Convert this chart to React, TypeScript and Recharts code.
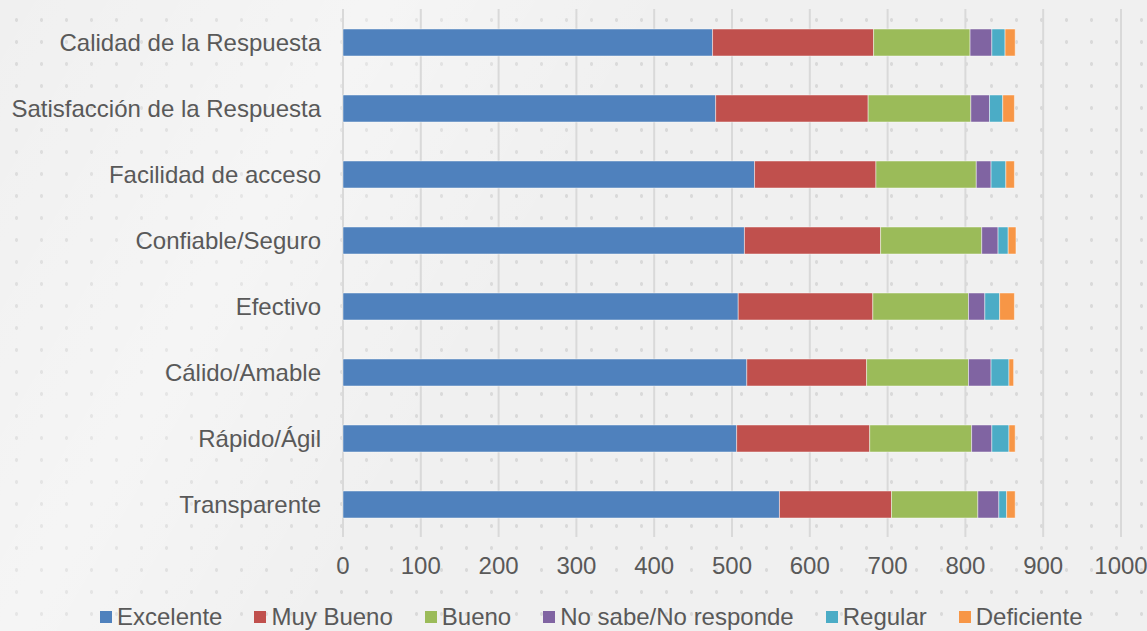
import React from 'react';
import { BarChart, Bar, XAxis, YAxis, CartesianGrid, Legend } from 'recharts';

const categories = [
  'Calidad de la Respuesta',
  'Satisfacción de la Respuesta',
  'Facilidad de acceso',
  'Confiable/Seguro',
  'Efectivo',
  'Cálido/Amable',
  'Rápido/Ágil',
  'Transparente',
];
const excelente = [475, 479, 529, 516, 508, 519, 506, 561];
const muyBueno = [207, 196, 156, 175, 173, 154, 171, 144];
const bueno = [124, 132, 129, 130, 123, 131, 131, 111];
const noSabe = [28, 24, 19, 21, 21, 29, 26, 27];
const regular = [17, 17, 19, 13, 19, 23, 22, 10];
const deficiente = [13, 15, 11, 10, 19, 6, 8, 11];
const xTicks = [0, 100, 200, 300, 400, 500, 600, 700, 800, 900, 1000];

const seriesNames = ['Excelente', 'Muy Bueno', 'Bueno', 'No sabe/No responde', 'Regular', 'Deficiente'];
const seriesKeys = ['excelente', 'muyBueno', 'bueno', 'noSabe', 'regular', 'deficiente'];
const seriesColors = ['#4f81bd', '#c0504d', '#9bbb59', '#8064a2', '#4bacc6', '#f79646'];

const data = categories.map((name, i) => ({
  name,
  excelente: excelente[i],
  muyBueno: muyBueno[i],
  bueno: bueno[i],
  noSabe: noSabe[i],
  regular: regular[i],
  deficiente: deficiente[i],
}));

const FONT = '"Liberation Sans", Arial, sans-serif';
const TEXT = '#595959';

const XTick = (props: any) => {
  const { x, y, payload } = props;
  return (
    <text x={x} y={y + 29} textAnchor="middle" fill={TEXT} fontSize={24} fontFamily={FONT}>
      {payload.value}
    </text>
  );
};

const LegendContent = () => (
  <div
    style={{
      display: 'flex',
      alignItems: 'center',
      height: 40,
      paddingTop: 11,
      boxSizing: 'border-box',
      paddingLeft: 100,
      fontFamily: FONT,
      fontSize: 24,
      color: TEXT,
      whiteSpace: 'nowrap',
    }}
  >
    {seriesNames.map((n, i) => (
      <div key={n} style={{ display: 'flex', alignItems: 'center', marginRight: 32 }}>
        <div style={{ width: 12, height: 12, background: seriesColors[i], marginRight: 5 }} />
        <span style={{ lineHeight: '24px' }}>{n}</span>
      </div>
    ))}
  </div>
);

export default function App() {
  return (
    <div
      style={{
        position: 'absolute',
        left: 0,
        top: 0,
        width: 1147,
        height: 631,
        overflow: 'hidden',
        backgroundColor: '#f0f0f0',
        backgroundImage:
          'linear-gradient(120deg, rgba(255,255,255,0) 0%, rgba(255,255,255,0.35) 25%, rgba(255,255,255,0) 45%), radial-gradient(circle, rgba(200,200,200,0.55) 1.6px, transparent 2px)',
        backgroundSize: '100% 100%, 25px 22px',
        backgroundPosition: '0 0, 4px 9px',
      }}
    >
      <BarChart
        width={1147}
        height={631}
        data={data}
        layout="vertical"
        margin={{ top: 9, right: 26, left: 0, bottom: 0 }}
        barSize={27}
      >
        <CartesianGrid horizontal={false} stroke="#d9d9d9" strokeWidth={2} />
        <XAxis
          type="number"
          domain={[0, 1000]}
          ticks={xTicks}
          axisLine={false}
          tickLine={false}
          height={54}
          tick={<XTick />}
          interval={0}
        />
        <YAxis
          type="category"
          dataKey="name"
          width={343}
          axisLine={false}
          tickLine={false}
          tickSize={6}
          tickMargin={16}
          interval={0}
          tick={{ fill: TEXT, fontSize: 24, fontFamily: FONT }}
        />
        <Legend
          verticalAlign="bottom"
          height={40}
          content={<LegendContent />}
          wrapperStyle={{ left: 0, width: 1147, bottom: 0 }}
        />
        {seriesKeys.map((k, i) => (
          <Bar
            key={k}
            dataKey={k}
            name={seriesNames[i]}
            stackId="a"
            fill={seriesColors[i]}
            stroke="#ffffff"
            strokeOpacity={0.45}
            strokeWidth={1}
            isAnimationActive={false}
          />
        ))}
      </BarChart>
    </div>
  );
}
